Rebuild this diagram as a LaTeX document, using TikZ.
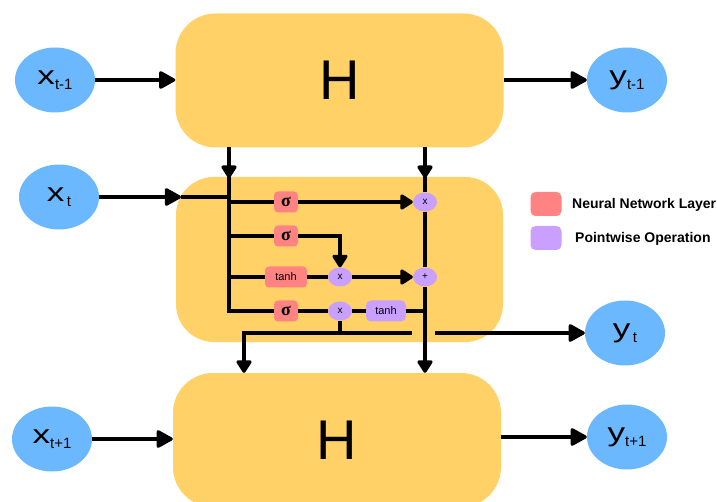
\documentclass[tikz,border=0pt]{standalone}
\usepackage{fontspec}
\setmainfont{Liberation Sans}
\newfontfamily\sigmafont{Liberation Serif}
\usetikzlibrary{arrows.meta,shapes.geometric,calc}

\definecolor{cellyellow}{HTML}{FFD166}
\definecolor{ioblue}{HTML}{6CB8FF}
\definecolor{nnred}{HTML}{FF8383}
\definecolor{pwpurple}{HTML}{C9A0FF}

\tikzset{
  hblock/.style={fill=cellyellow, rounded corners=40pt, minimum width=328pt,
    minimum height=134pt, inner sep=0pt, font=\fontsize{56}{56}\selectfont},
  cellbox/.style={fill=cellyellow, rounded corners=38pt, minimum width=327pt,
    minimum height=165pt, inner sep=0pt},
  iobubble/.style={ellipse, fill=ioblue, minimum width=80pt, minimum height=65pt,
    inner sep=0pt},
  nnlayer/.style={fill=nnred, rounded corners=4pt, minimum height=21pt,
    inner sep=0pt, font=\fontsize{11}{11}\selectfont},
  sigmabox/.style={nnlayer, minimum width=24pt,
    font=\sigmafont\bfseries\fontsize{18}{18}\selectfont},
  pwop/.style={ellipse, fill=pwpurple, minimum width=24pt, minimum height=19pt,
    inner sep=0pt, font=\fontsize{10}{10}\selectfont},
  pwbox/.style={fill=pwpurple, rounded corners=5pt, minimum width=40pt,
    minimum height=21pt, inner sep=0pt, font=\fontsize{11}{11}\selectfont},
  legendkey/.style={rounded corners=5pt, minimum width=31pt, minimum height=24pt,
    inner sep=0pt},
  legendtext/.style={anchor=base west, inner sep=0pt,
    font=\bfseries\fontsize{14}{14}\selectfont},
  wire/.style={line width=3.2pt},
  bigarrow/.style={wire, -{Triangle[length=18pt,width=19pt,round]}},
  smallarrow/.style={wire, -{Triangle[length=14pt,width=17pt,round]}},
}
% variable name with a lowered index
\newcommand\ioname[2]{{\fontsize{26}{26}\selectfont\scalebox{1.35}[1]{#1}}%
  {\fontsize{15}{15}\selectfont\raisebox{-5pt}{#2}}}

\begin{document}
\begin{tikzpicture}[x=1pt,y=-1pt]
\useasboundingbox (0,0) rectangle (717,502);

% hidden-state blocks and the unrolled cell
\node[hblock] (Htop) at (339.5,80.5) {H};
\node[cellbox] (cell) at (339.5,259.5) {};
\node[hblock] (Hbot) at (337,440) {H};

% inputs and outputs
\node[iobubble] (xtm) at (55,80)  {\ioname{x}{t-1}};
\node[iobubble] (xt)  at (59,197) {\ioname{x}{\,t}};
\node[iobubble] (xtp) at (52,439) {\ioname{x}{t+1}};
\node[iobubble] (ytm) at (627,80)  {\ioname{y}{t-1}};
\node[iobubble] (yt)  at (625,333) {\ioname{y}{\,t}};
\node[iobubble] (ytp) at (627,437) {\ioname{y}{t+1}};

% gates inside the cell
\node[sigmabox] (s1) at (286,202) {σ};
\node[sigmabox] (s2) at (286,236) {σ};
\node[nnlayer, minimum width=42pt] (t1) at (286,277) {tanh};
\node[sigmabox] (s3) at (286,311) {σ};
\node[pwop] (m1) at (425,202) {x};
\node[pwop] (m2) at (340,277) {x};
\node[pwop] (a1) at (425,277) {+};
\node[pwop] (m3) at (340,311) {x};
\node[pwbox] (t2) at (386,311) {tanh};

% junction points
\coordinate (lbTop) at (229,147.5);
\coordinate (lbIn)  at (229,178);
\coordinate (lbBot) at (229,311);
\coordinate (rbTop) at (425,147.5);
\coordinate (rbIn)  at (425,178);
\coordinate (xin)   at (181,197);
\coordinate (hjL)   at (244,333);
\coordinate (hjR)   at (412,333);
\coordinate (yOut)  at (435,333);

% outer connections
\draw[bigarrow] (xtm.east) -- (xtm.east -| Htop.west);
\draw[bigarrow] (Htop.east |- ytm) -- (ytm.west);
\draw[bigarrow] (xtp.east) -- (xtp.east -| Hbot.west);
\draw[bigarrow] (Hbot.east |- ytp) -- (ytp.west);
\draw[bigarrow] (xt.east) -- (xin);
\draw[wire] (xin) -- (lbTop |- xin);

% left bus feeding the gates
\draw[wire] (lbTop) -- (lbBot) -- (s3.west);
\draw[smallarrow] (lbTop) -- (lbIn);
\draw[wire] (lbTop |- s1) -- (s1.west);
\draw[wire] (lbTop |- s2) -- (s2.west);
\draw[wire] (lbTop |- t1) -- (t1.west);

% gate outputs
\draw[smallarrow] (s1.east) -- (m1.west);
\draw[smallarrow] (s2.east) -| (m2.north);
\draw[wire] (t1.east) -- (m2.west);
\draw[smallarrow] (m2.east) -- (a1.west);
\draw[wire] (s3.east) -- (m3.west);
\draw[wire] (m3.east) -- (t2.west);
\draw[wire] (t2.east) -- (t2.east -| a1);

% cell-state line on the right
\draw[wire] (rbTop) -- (m1.north);
\draw[smallarrow] (rbTop) -- (rbIn);
\draw[wire] (m1.south) -- (a1.north);
\draw[smallarrow] (a1.south) -- (a1.south |- Hbot.north);

% hidden output
\draw[wire] (m3.south) -- (m3.south |- hjL);
\draw[smallarrow] (hjR) -- (hjL) -- (hjL |- Hbot.north);
\draw[bigarrow] (yOut) -- (yt.west);

% legend
\node[legendkey, fill=nnred] (lgNN) at (546,204) {};
\node[legendtext] (lgNNtext) at (572,209) {Neural Network Layer};
\node[legendkey, fill=pwpurple] (lgPW) at (546,238) {};
\node[legendtext] (lgPWtext) at (575,243) {Pointwise Operation};
\end{tikzpicture}
\end{document}
